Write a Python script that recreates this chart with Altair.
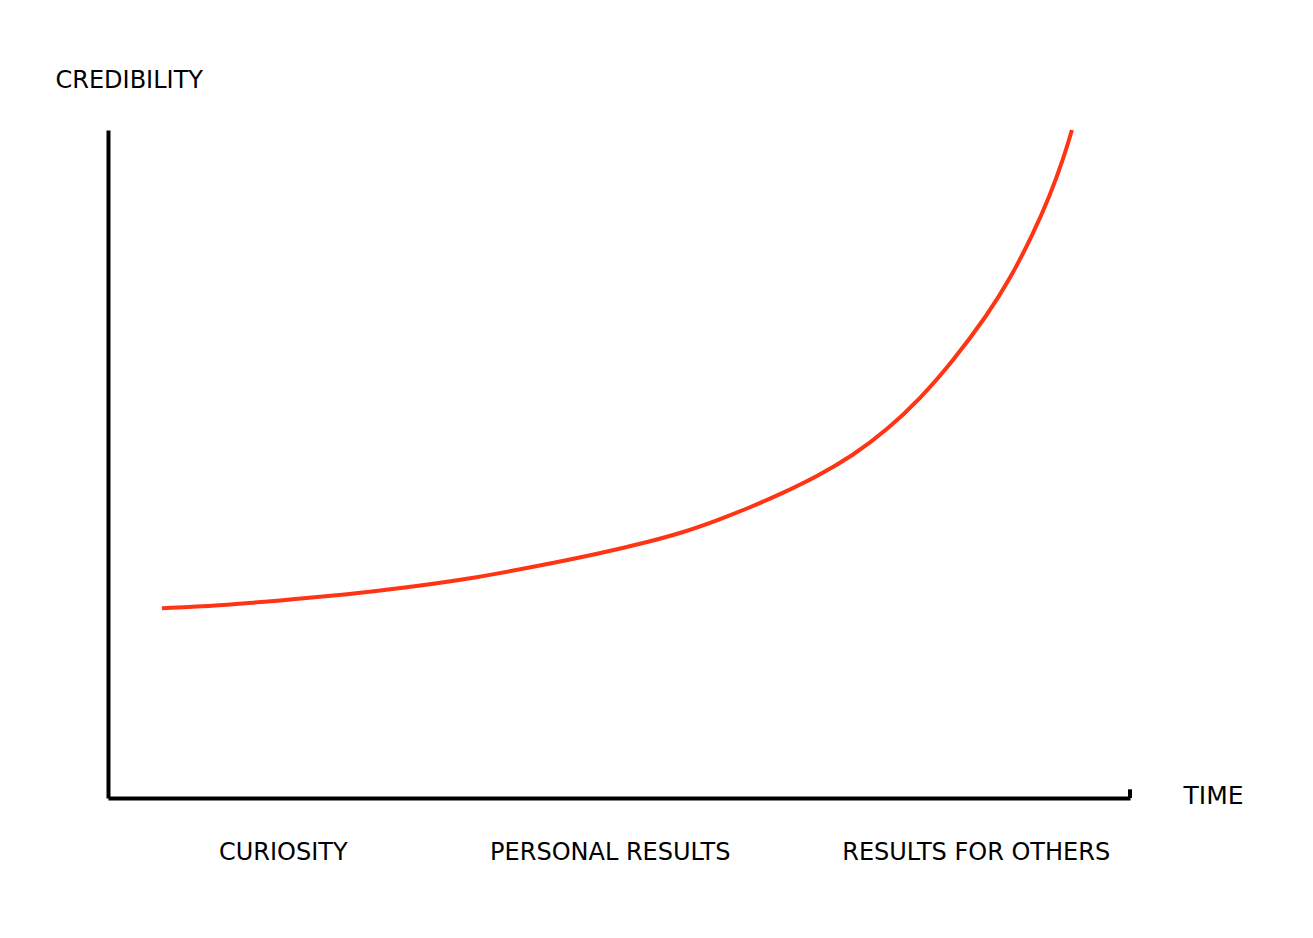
import altair as alt
import pandas as pd

# Curve (time 0-100 along x, credibility 0-100 up y)
time_pts = [5.28, 10.67, 17.12, 23.68, 28.57, 35.13, 41.59, 48.14, 53.03,
            56.26, 59.59, 62.82, 66.05, 69.37, 72.90, 76.22, 79.45, 82.68,
            86.01, 88.26, 90.51, 92.17, 93.44, 94.32]
cred_pts = [28.40, 28.79, 29.60, 30.51, 31.39, 32.74, 34.58, 36.60, 38.40,
            39.75, 41.54, 43.49, 45.66, 48.13, 51.27, 55.09, 59.73, 65.42,
            72.23, 77.69, 84.43, 90.21, 95.51, 100.0]

# Phase labels under the time axis
phase_pos = [17.1, 49.1, 84.9]
phase_names = ['CURIOSITY', 'PERSONAL RESULTS', 'RESULTS FOR OTHERS']

curve = pd.DataFrame({'time': time_pts, 'credibility': cred_pts})

label_expr = ' : '.join(
    f"datum.value == {p} ? '{n}'" for p, n in zip(phase_pos, phase_names)
) + " : ''"

line = alt.Chart(curve).mark_line(
    color='#ff3414', strokeWidth=4, interpolate='basis'
).encode(
    x=alt.X('time:Q',
            scale=alt.Scale(domain=[0, 100], nice=False, zero=False),
            axis=alt.Axis(values=phase_pos, labelExpr=label_expr,
                          ticks=False, grid=False, labelPadding=42,
                          labelFontSize=24, labelColor='black', labelLimit=0,
                          labelFlush=False, labelOverlap=False,
                          domainColor='black', domainWidth=4,
                          title='TIME', titleX=1075, titleY=-3,
                          titleAlign='left', titleBaseline='middle',
                          titleFontSize=25, titleFontWeight='normal')),
    y=alt.Y('credibility:Q',
            scale=alt.Scale(domain=[0, 100], nice=False, zero=False),
            axis=alt.Axis(labels=False, ticks=False, grid=False,
                          domainColor='black', domainWidth=4,
                          title='CREDIBILITY', titleAngle=0,
                          titleX=-53, titleY=-50,
                          titleAlign='left', titleBaseline='middle',
                          titleFontSize=24, titleFontWeight='normal'))
)

# little upturn at the end of the time axis
end_tick = alt.Chart().mark_rule(color='black', strokeWidth=4).encode(
    x=alt.datum(100), y=alt.datum(0), y2=alt.datum(1.3)
)

chart = alt.layer(line, end_tick).properties(
    width=1022,
    height=668,
    autosize=alt.AutoSizeParams(type='none'),
    padding={'left': 100, 'top': 122, 'right': 175, 'bottom': 120},
    background='white'
).configure_axis(
    labelFont='DejaVu Sans',
    titleFont='DejaVu Sans',
    titleColor='black'
).configure_view(
    strokeOpacity=0
)

chart.save("out.html", embed_options={"renderer": "svg", "actions": False})
